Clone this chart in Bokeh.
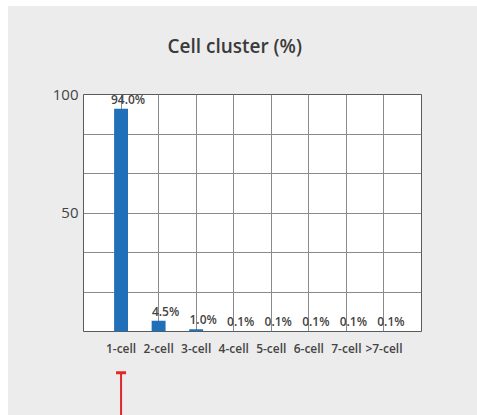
from bokeh.plotting import figure
from bokeh.models import FactorRange, FixedTicker, Range1d, Title
from bokeh.layouts import column
from bokeh.embed import file_html
from bokeh.resources import INLINE
from bokeh.core.properties import value

# ---- data ----
categories = ["1-cell", "2-cell", "3-cell", "4-cell", "5-cell", "6-cell", "7-cell", ">7-cell"]
percent = [94.0, 4.5, 1.0, 0.1, 0.1, 0.1, 0.1, 0.1]
value_labels = ["94.0%", "4.5%", "1.0%", "0.1%", "0.1%", "0.1%", "0.1%", "0.1%"]
y_tick_values = [50, 100]
grid_steps = 6
selected = ["1-cell"]

FONT = "Open Sans"
FONT_SB = "Open Sans SemiBold"
TEXT = "#444444"
BG = "#ececec"
BAR = "#1f6fb9"
RED = "#e3262b"

xr = FactorRange(factors=categories, range_padding=0.5, range_padding_units="absolute")

p = figure(x_range=xr, y_range=Range1d(0, 100), width=469, height=364,
           output_backend="svg", toolbar_location=None, title="Cell cluster (%)",
           min_border_left=75, min_border_right=56, min_border_top=88, min_border_bottom=39)
p.background_fill_color = "white"
p.border_fill_color = BG
p.outline_line_color = "#5a5a5a"
p.outline_line_width = 1

p.title.text_font = FONT_SB
p.title.text_font_size = "19px"
p.title.text_font_style = "normal"
p.title.text_color = "#3a3a3a"
p.title.align = "left"
p.title.offset = 84
p.title.standoff = 10

# empty spacer between the title and the plot box
p.add_layout(Title(text=" ", text_font_size="1px", standoff=28), "above")

p.vbar(x=categories, top=percent, width=0.37, color=BAR, line_color=None)

p.text(x=categories, y=percent, text=value_labels, text_align="center",
       text_baseline="bottom", x_offset=7, y_offset=-1,
       text_font=value(FONT_SB), text_font_size="12px", text_font_style="normal",
       text_color=TEXT)

p.xgrid.grid_line_color = "#8a8a8a"
p.xgrid.grid_line_width = 1
p.ygrid.ticker = FixedTicker(ticks=[100 * k / grid_steps for k in range(1, grid_steps)])
p.ygrid.grid_line_color = "#8a8a8a"
p.ygrid.grid_line_width = 1

p.yaxis.ticker = FixedTicker(ticks=y_tick_values)
for ax in (p.xaxis, p.yaxis):
    ax.axis_line_color = None
    ax.major_tick_line_color = None
    ax.minor_tick_line_color = None
    ax.major_tick_out = 0
    ax.major_tick_in = 0
    ax.minor_tick_out = 0
    ax.major_label_text_color = TEXT
p.yaxis.major_label_text_font = FONT
p.yaxis.major_label_text_font_size = "15px"
p.yaxis.major_label_standoff = 5
p.xaxis.major_label_text_font = FONT_SB
p.xaxis.major_label_text_font_size = "12px"
p.xaxis.major_label_standoff = 8

# pointer under the selected category
p2 = figure(x_range=xr, y_range=Range1d(0, 1.05), width=469, height=45,
            output_backend="svg", toolbar_location=None,
            min_border_left=75, min_border_right=56, min_border_top=0, min_border_bottom=0,
            x_axis_location=None, y_axis_location=None)
p2.background_fill_color = None
p2.border_fill_color = BG
p2.outline_line_color = None
p2.grid.visible = False
p2.segment(x0=selected, y0=[0], x1=selected, y1=[1], line_color=RED, line_width=2)
p2.scatter(x=selected, y=[1], marker="dash", size=10, line_color=RED, line_width=3)

layout = column(p, p2, spacing=0, margin=(6, 0, 0, 8), styles={"background-color": BG})
open("out.html", "w").write(file_html(layout, INLINE))
